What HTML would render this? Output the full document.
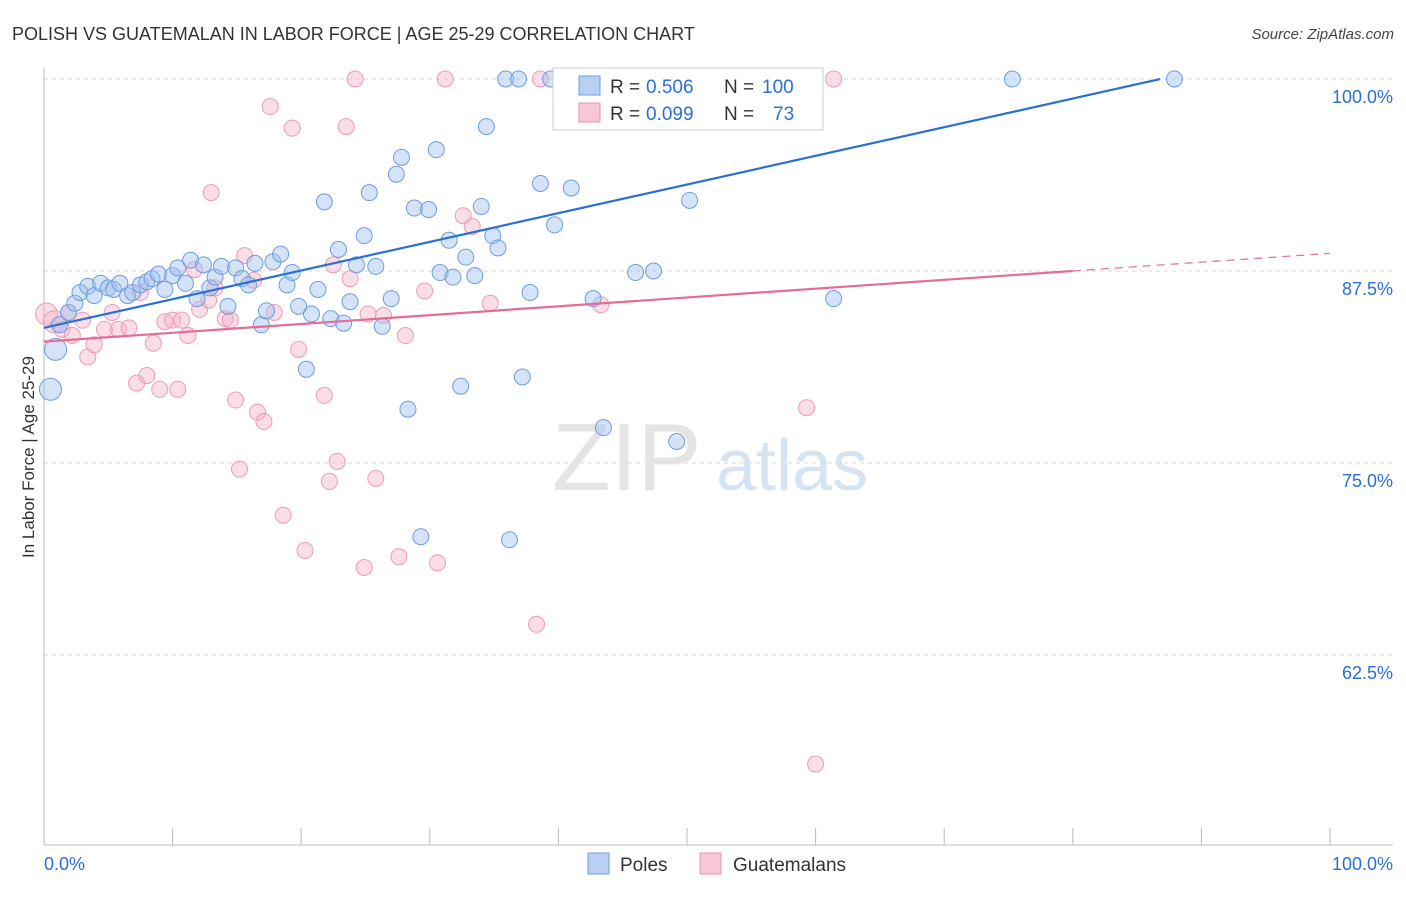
<!DOCTYPE html>
<html><head><meta charset="utf-8"><style>
body{margin:0;background:#fff;font-family:"Liberation Sans",sans-serif}
svg text{font-family:"Liberation Sans",sans-serif}
</style></head><body>
<svg id="chart" width="1406" height="892" viewBox="0 0 1406 892" xmlns="http://www.w3.org/2000/svg">
<text x="12" y="40" font-size="18" fill="#333">POLISH VS GUATEMALAN IN LABOR FORCE | AGE 25-29 CORRELATION CHART</text>
<text x="1394" y="39" font-size="15" fill="#444" text-anchor="end" font-style="italic">Source: ZipAtlas.com</text>
<text transform="translate(34,457) rotate(-90)" font-size="17" fill="#333" text-anchor="middle">In Labor Force | Age 25-29</text>
<g id="grid"></g>
<text x="552" y="490" font-size="96" fill="#e4e4e4" font-family="Liberation Serif">ZIP</text>
<text x="716" y="490" font-size="72" fill="#d6e3f3">atlas</text>
<g id="pts"></g>
<g id="lines"></g>
<g>
<rect x="553" y="68" width="270" height="62" fill="#fff" stroke="#ccc"/>
<rect x="579" y="76" width="21" height="19" fill="#b8d0f2" stroke="#6f9ce0"/>
<text x="610" y="93" font-size="19" fill="#333">R =</text>
<text x="646" y="93" font-size="19" fill="#2a6fd6">0.506</text>
<text x="724" y="93" font-size="19" fill="#333">N =</text>
<text x="762" y="93" font-size="19" fill="#2a6fd6">100</text>
<rect x="579" y="103" width="21" height="19" fill="#f8c6d4" stroke="#e890ad"/>
<text x="610" y="120" font-size="19" fill="#333">R =</text>
<text x="646" y="120" font-size="19" fill="#2a6fd6">0.099</text>
<text x="724" y="120" font-size="19" fill="#333">N =</text>
<text x="773" y="120" font-size="19" fill="#2a6fd6">73</text>
</g>
<g>
<rect x="588" y="853" width="21" height="21" fill="#b8d0f2" stroke="#6f9ce0"/>
<text x="620" y="871" font-size="19" fill="#333">Poles</text>
<rect x="700" y="853" width="21" height="21" fill="#f8c6d4" stroke="#e890ad"/>
<text x="733" y="871" font-size="19" fill="#333">Guatemalans</text>
</g>
</svg>
<script>
const yTicks=[100,87.5,75,62.5];
const yTickLabels=["100.0%","87.5%","75.0%","62.5%"];
const xTickLabels=["0.0%","100.0%"];
const polesX=[0.5,0.9,1.2,1.9,2.4,2.8,3.4,3.9,4.4,5.0,5.4,5.9,6.5,6.9,7.5,8.0,8.4,8.9,9.4,10.0,10.4,11.0,11.4,11.9,12.4,12.9,13.3,13.8,14.3,14.9,15.4,15.9,16.4,16.9,17.3,17.8,18.4,18.9,19.3,19.8,20.4,20.8,21.3,21.8,22.3,22.9,23.3,23.8,24.3,24.9,25.3,25.8,26.3,27.0,27.4,27.8,28.3,28.8,29.3,29.9,30.5,30.8,31.5,31.8,32.4,32.8,33.5,34.0,34.4,34.9,35.3,35.9,36.2,36.9,37.2,37.8,38.6,39.4,39.7,41.0,42.4,42.7,43.5,44.5,46.0,46.0,47.4,49.2,50.2,51.2,55.3,61.4,75.3,87.9];
const polesY=[79.8,82.4,84.0,84.8,85.4,86.1,86.5,85.9,86.7,86.4,86.3,86.7,85.9,86.1,86.6,86.8,87.0,87.3,86.3,87.2,87.7,86.7,88.2,85.7,87.9,86.4,87.1,87.8,85.2,87.7,87.0,86.6,88.0,84.0,84.9,88.1,88.6,86.6,87.4,85.2,81.1,84.7,86.3,92.0,84.4,88.9,84.1,85.5,87.9,89.8,92.6,87.8,83.9,85.7,93.8,94.9,78.5,91.6,70.2,91.5,95.4,87.4,89.5,87.1,80.0,88.4,87.2,91.7,96.9,89.8,89.0,100,70.0,100,80.6,86.1,93.2,100,90.5,92.9,100,85.7,77.3,100,100,87.4,87.5,76.4,92.1,100,100,85.7,100,100];
const guatX=[0.2,0.8,1.4,1.9,2.2,3.0,3.4,3.9,4.7,5.3,5.8,6.6,7.2,7.5,8.0,8.5,9.0,9.4,10.0,10.4,10.7,11.2,11.7,12.1,12.8,13.0,13.3,14.1,14.5,14.9,15.2,15.6,16.3,16.6,17.1,17.6,17.9,18.6,19.3,19.8,20.3,21.8,22.2,22.5,22.8,23.5,23.8,24.2,24.9,25.2,25.8,26.4,27.6,28.1,29.6,30.6,31.2,32.6,33.3,34.7,38.3,38.6,42.4,43.3,58.6,59.3,60.0,61.4];
const guatY=[84.7,84.2,83.7,84.8,83.3,84.3,81.9,82.7,83.7,84.8,83.7,83.8,80.2,86.1,80.7,82.8,79.8,84.2,84.3,79.8,84.3,83.3,87.6,85.0,85.6,92.6,86.4,84.4,84.3,79.1,74.6,88.5,86.9,78.3,77.7,98.2,84.8,71.6,96.8,82.4,69.3,79.4,73.8,87.9,75.1,96.9,87.0,100,68.2,84.7,74.0,84.6,68.9,83.3,86.2,68.5,100,91.1,90.4,85.4,64.5,100,98.6,85.3,100,78.6,55.4,100];
const polesTrend=[83.8,0.1866,86.8];
const guatTrend=[82.9,0.0575,80,100];
const NS="http://www.w3.org/2000/svg";
const X0=44,X1=1330,YTOP=79,PXPER=15.36;
const sx=v=>X0+(X1-X0)*v/100;
const sy=v=>YTOP+(100-v)*PXPER;
function mk(tag,attrs,parent){const e=document.createElementNS(NS,tag);for(const k in attrs)e.setAttribute(k,attrs[k]);parent.appendChild(e);return e;}
const grid=document.getElementById('grid');
yTicks.forEach((t,i)=>{
 const l=mk('line',{x1:44,x2:1393,y1:sy(t),y2:sy(t),stroke:'#d8d8d8','stroke-dasharray':'4,4'},grid);
 
 
 const tx=mk('text',{x:1393,y:sy(t)+24,'font-size':18,fill:'#2a6fd6','text-anchor':'end'},grid);
 tx.textContent=yTickLabels[i];
 
 
});
const ax=mk('line',{x1:44,x2:44,y1:68,y2:845,stroke:'#bbb'},grid);


const bx=mk('line',{x1:44,x2:1393,y1:845,y2:845,stroke:'#bbb'},grid);


for(let i=0;i<=10;i++){
 const t=mk('line',{x1:sx(i*10),x2:sx(i*10),y1:828,y2:845,stroke:'#bbb'},grid);
 
 
}
[[0,'start'],[100,'end']].forEach((p,i)=>{
 const t=mk('text',{x:p[0]===0?44:1393,y:870,'font-size':18,fill:'#2a6fd6','text-anchor':p[1]},grid);
 t.textContent=xTickLabels[i];
 
 
});
const pts=document.getElementById('pts');
guatX.forEach((x,i)=>{
 const c=mk('circle',{cx:sx(x),cy:sy(guatY[i]),r:x<1?11:8,fill:'rgba(246,180,200,0.45)',stroke:'#eb9cb6','stroke-width':1},pts);
 
 
});
polesX.forEach((x,i)=>{
 const c=mk('circle',{cx:sx(x),cy:sy(polesY[i]),r:x<1?11:8,fill:'rgba(160,192,238,0.45)',stroke:'#6f9ce0','stroke-width':1},pts);
 
 
});
const lines=document.getElementById('lines');
const bl=mk('line',{x1:sx(0),y1:sy(polesTrend[0]),x2:sx(polesTrend[2]),y2:sy(polesTrend[0]+polesTrend[1]*polesTrend[2]),stroke:'#2a6fd6','stroke-width':2.2},lines);


const pl=mk('line',{x1:sx(0),y1:sy(guatTrend[0]),x2:sx(guatTrend[2]),y2:sy(guatTrend[0]+guatTrend[1]*guatTrend[2]),stroke:'#e56b98','stroke-width':2.2},lines);


const pd=mk('line',{x1:sx(guatTrend[2]),y1:sy(guatTrend[0]+guatTrend[1]*guatTrend[2]),x2:sx(guatTrend[3]),y2:sy(guatTrend[0]+guatTrend[1]*guatTrend[3]),stroke:'#e56b98','stroke-width':1.2,'stroke-dasharray':'8,6'},lines);


</script>
</body></html>
